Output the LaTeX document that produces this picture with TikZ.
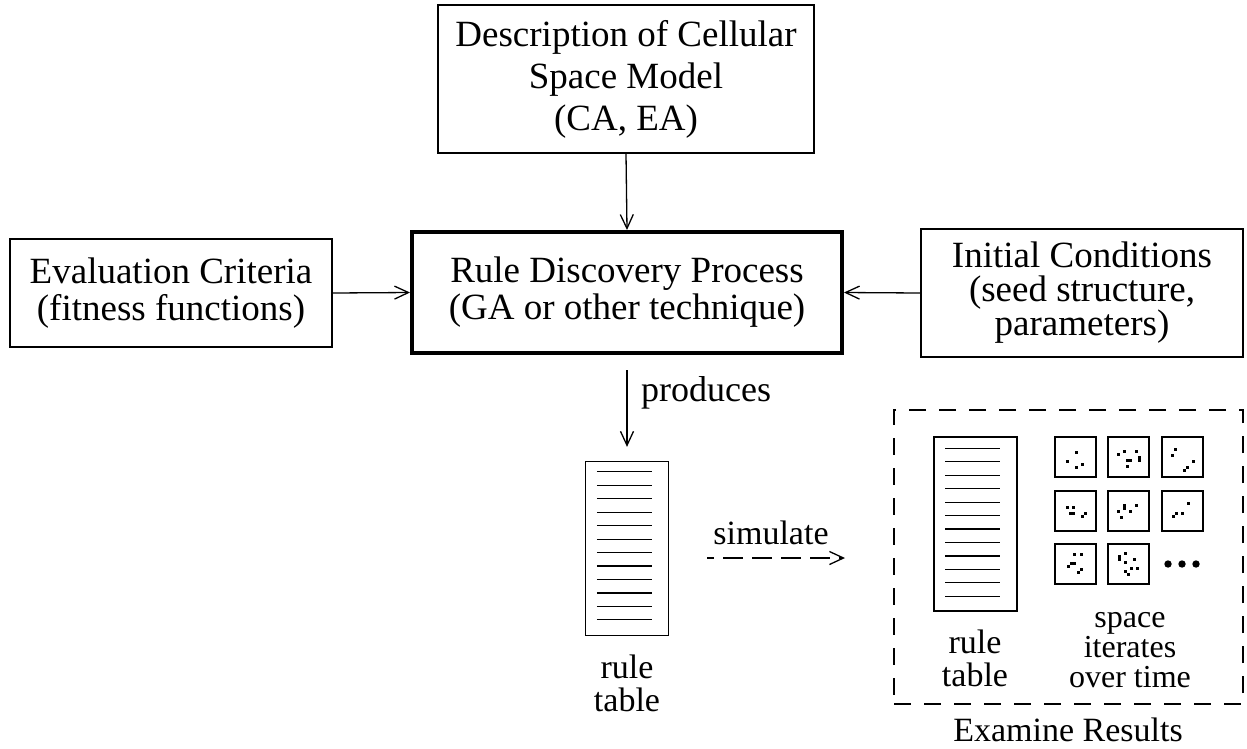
\documentclass[tikz,border=0pt]{standalone}
\usepackage{fontspec}
\setmainfont{Liberation Serif}
\usetikzlibrary{arrows.meta,calc}

\begin{document}
\begin{tikzpicture}[x=1pt,y=-1pt,
  every node/.style={font=\fontsize{34}{37}\selectfont, align=center, inner sep=0pt},
  boxfont/.style={font=\fontsize{37}{#1}\selectfont},
  box/.style={draw, line width=1.3pt},
  mainbox/.style={draw, line width=4pt},
  tablebox/.style={draw, line width=1.3pt, minimum width=83pt, minimum height=174pt},
  cell/.style={draw, line width=1.3pt, minimum width=41pt, minimum height=40pt},
  arr/.style={line width=1.3pt, -{Straight Barb[length=14pt,width=13pt,line width=1.3pt]}},
  dasharr/.style={arr, dash pattern=on 20pt off 9pt, dash phase=13pt},
  pix/.style={fill=black}]
\useasboundingbox (0,0) rectangle (1247,748);

% model inputs
\node[box, boxfont=42, minimum width=376pt, minimum height=148pt] (desc) at (626,79)
  {Description of Cellular\\Space Model\\(CA, EA)};
\node[mainbox, boxfont=37, minimum width=430pt, minimum height=121pt] (main) at (627,292.5)
  {Rule Discovery Process\\(GA or other technique)};
\node[box, boxfont=37, minimum width=322pt, minimum height=108pt] (eval) at (171,293)
  {Evaluation Criteria\\(fitness functions)};
\node[box, boxfont=34, minimum width=322pt, minimum height=128pt] (init) at (1082,293)
  {Initial Conditions\\(seed structure,\\parameters)};

\draw[arr] (desc.south) -- (main.north);
\draw[arr] (eval.east) -- (main.west);
\draw[arr] (init.west) -- (main.east);

% produced rule table
\node[tablebox] (rt1) at (627,548.5) {};
\foreach \k in {0,...,11}
  \draw[line width=1.2pt] ($(rt1.north west)+(12,{11+13.45*\k})$) -- ++(55,0);
\node[font=\fontsize{34}{33}\selectfont] (rt1lab) at (627,683) {rule\\table};

\draw[arr, shorten <=15pt, shorten >=14pt] (main.south) -- (rt1.north);
\node[anchor=west, font=\fontsize{36}{37}\selectfont] (prod) at (641,393) {produces};

% simulation step
\coordinate (simA) at (707,558);
\coordinate (simB) at (845,558);
\draw[dasharr] (simA) -- (simB);
\node (simlab) at (771,533) {simulate};

% examined results
\node[draw, line width=1.3pt, dash pattern=on 17pt off 13pt,
      minimum width=349pt, minimum height=294pt] (res) at (1068.5,557) {};
\node (reslab) at (1068,730) {Examine Results};

\node[tablebox] (rt2) at (975.5,524) {};
\foreach \k in {0,...,11}
  \draw[line width=1.2pt] ($(rt2.north west)+(12,{12+13.45*\k})$) -- ++(55,0);
\node[font=\fontsize{34}{33}\selectfont] (rt2lab) at (975,658) {rule\\table};

% space iterates
\node[cell] (s11) at (1075.5,457) {};
\node[cell] (s12) at (1128.5,457) {};
\node[cell] (s13) at (1182.5,457) {};
\node[cell] (s21) at (1075.5,511) {};
\node[cell] (s22) at (1128.5,511) {};
\node[cell] (s23) at (1182.5,511) {};
\node[cell] (s31) at (1075.5,564) {};
\node[cell] (s32) at (1128.5,564) {};

\foreach \s/\pts in {
  s11/{22/16,13/25,28/28,22/31},
  s12/{11/18,17/15,29/15,20/24,23/24,32/21,32/24,20/30},
  s13/{14/13,11/19,32/25,26/31,23/34},
  s21/{13/17,19/17,16/23,19/23,31/23,28/26},
  s22/{17/15,17/18,11/21,23/21,29/15,14/27},
  s23/{27/13,21/23,15/23,12/26},
  s31/{20/11,27/11,17/20,20/20,14/23,27/26,24/29},
  s32/{18/10,12/13,12/16,27/16,18/19,24/25,30/25,18/28,21/31}}
  \foreach \dx/\dy in \pts
    \fill[pix] ($(\s.north west)+(\dx-1.5,\dy-1.5)$) rectangle ++(3,3);

\foreach \cx in {1168,1182,1196}
  \fill (\cx,564) circle (3.7);

\node[font=\fontsize{32}{30}\selectfont] (spacelab) at (1130,650)
  {space\\iterates\\over time};
\end{tikzpicture}
\end{document}
